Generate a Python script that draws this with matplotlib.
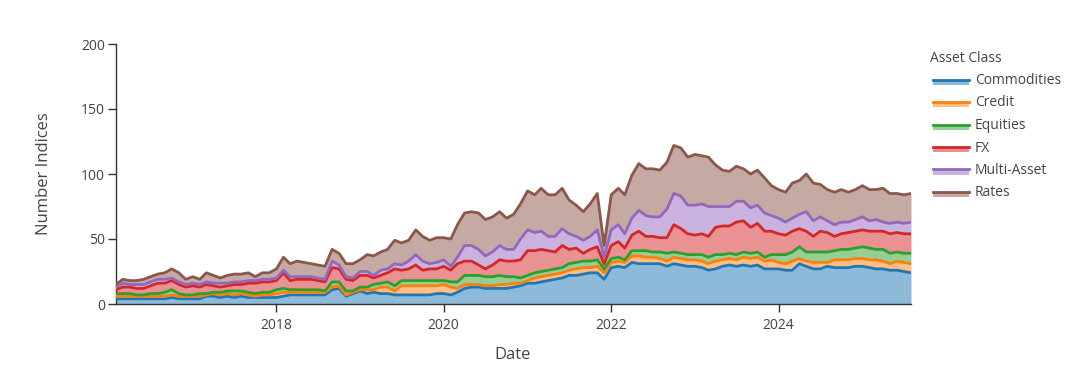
import numpy as np
import pandas as pd
import matplotlib
matplotlib.use("Agg")
import matplotlib.pyplot as plt
from matplotlib.patches import Rectangle
from matplotlib.lines import Line2D

# monthly counts, Feb 2016 .. Aug 2025
dates = pd.date_range("2016-02-01", periods=115, freq="MS")

commodities = [4, 4, 4, 4, 4, 4, 4, 4, 5, 4, 4, 4, 4, 6, 6, 5, 6, 5, 6, 5,
               5, 5, 5, 5, 6, 7, 7, 7, 7, 7, 7, 11, 12, 6, 8, 10, 8, 9, 8, 8,
               7, 7, 7, 7, 7, 7, 8, 8, 7, 9, 12, 13, 13, 12, 12, 12, 12, 13, 14, 16,
               16, 17, 18, 19, 20, 22, 22, 23, 24, 24, 19, 28, 29, 28, 32, 31, 31, 31, 31, 29,
               31, 30, 29, 29, 28, 26, 27, 29, 30, 29, 30, 29, 30, 27, 27, 27, 26, 26, 31, 29,
               27, 27, 29, 28, 28, 28, 29, 29, 28, 27, 27, 26, 26, 25, 24]
credit = [2, 2, 2, 2, 2, 2, 2, 2, 2, 2, 2, 2, 2, 1, 2, 2, 2, 2, 2, 2,
          1, 2, 2, 3, 3, 2, 2, 2, 2, 2, 2, 2, 2, 1, 1, 1, 3, 2, 5, 5,
          3, 7, 7, 7, 7, 7, 6, 7, 6, 3, 3, 2, 2, 2, 2, 3, 3, 3, 2, 2,
          4, 4, 4, 4, 4, 4, 5, 5, 4, 5, 5, 4, 4, 4, 5, 6, 5, 5, 4, 4,
          5, 5, 5, 5, 5, 5, 6, 5, 5, 5, 6, 6, 6, 6, 7, 5, 5, 7, 4, 4,
          5, 5, 3, 6, 6, 6, 6, 6, 6, 7, 6, 5, 7, 7, 7]
equities = [2, 2, 2, 1, 1, 2, 2, 3, 4, 2, 1, 1, 2, 1, 1, 2, 2, 3, 2, 2,
            2, 2, 2, 3, 3, 2, 2, 2, 2, 2, 1, 4, 3, 3, 1, 2, 2, 4, 3, 4,
            4, 4, 4, 4, 4, 4, 4, 3, 4, 5, 7, 7, 7, 7, 7, 7, 6, 5, 4, 4,
            4, 4, 4, 4, 4, 5, 5, 5, 5, 5, 3, 3, 3, 2, 4, 4, 5, 4, 5, 6,
            4, 4, 4, 4, 5, 5, 5, 4, 4, 4, 4, 4, 4, 3, 4, 6, 7, 7, 9, 7,
            8, 8, 8, 7, 8, 8, 8, 9, 9, 8, 9, 8, 7, 7, 8]
fx = [3, 5, 5, 5, 5, 6, 8, 7, 7, 7, 6, 7, 5, 7, 5, 4, 4, 5, 5, 7,
      8, 8, 8, 7, 12, 7, 8, 8, 8, 7, 7, 11, 10, 9, 8, 9, 9, 5, 6, 7,
      13, 8, 9, 12, 8, 9, 9, 11, 9, 14, 11, 11, 8, 6, 9, 12, 12, 12, 14, 19,
      17, 17, 15, 13, 17, 11, 11, 6, 9, 10, 4, 10, 12, 9, 12, 15, 11, 12, 11, 12,
      21, 19, 16, 15, 16, 16, 21, 22, 21, 25, 24, 20, 22, 20, 18, 16, 15, 16, 14, 16,
      12, 16, 15, 11, 12, 13, 13, 13, 13, 14, 14, 15, 15, 15, 15]
multi_asset = [2, 3, 2, 3, 3, 3, 3, 3, 2, 2, 2, 2, 2, 2, 2, 3, 2, 2, 2, 2,
               2, 2, 2, 2, 2, 3, 2, 2, 2, 2, 2, 5, 3, 2, 2, 3, 3, 2, 4, 3,
               4, 4, 6, 8, 7, 4, 5, 5, 3, 5, 12, 12, 12, 10, 10, 11, 9, 9, 16, 16,
               14, 14, 11, 12, 13, 12, 9, 10, 10, 13, 5, 12, 13, 11, 13, 16, 16, 15, 16, 22,
               24, 25, 22, 23, 23, 23, 16, 15, 15, 16, 15, 15, 14, 14, 12, 12, 10, 10, 11, 15,
               12, 11, 9, 9, 9, 8, 9, 10, 8, 9, 7, 8, 8, 8, 9]
rates = [2, 3, 3, 3, 4, 4, 4, 5, 7, 7, 4, 5, 4, 7, 6, 4, 6, 6, 6, 6,
         3, 5, 5, 7, 10, 10, 12, 11, 10, 10, 10, 9, 9, 10, 11, 9, 13, 15, 14, 15,
         18, 17, 16, 19, 19, 18, 19, 17, 21, 25, 25, 26, 28, 28, 27, 26, 24, 27, 27, 30,
         29, 33, 32, 32, 31, 26, 24, 22, 25, 28, 9, 27, 28, 30, 33, 36, 36, 37, 36, 36,
         37, 37, 37, 39, 37, 38, 32, 28, 27, 27, 25, 26, 27, 27, 23, 22, 23, 27, 26, 29,
         29, 25, 24, 25, 25, 23, 23, 24, 24, 23, 26, 23, 22, 22, 22]

names = ["Commodities", "Credit", "Equities", "FX", "Multi-Asset", "Rates"]
series = [commodities, credit, equities, fx, multi_asset, rates]
colors = ["#1f77b4", "#ff7f0e", "#2ca02c", "#d62728", "#9467bd", "#8c564b"]

plt.rcParams["font.family"] = ["Open Sans", "DejaVu Sans"]
TXT = "#444444"
AX = "#333333"

W, H = 1081, 382
fig = plt.figure(figsize=(W / 100, H / 100), dpi=100)
ax = fig.add_axes([116 / W, 78 / H, 795 / W, 260 / H])

tops = np.cumsum(np.array(series, dtype=float), axis=0)
bottom = np.zeros(len(dates))
for top, c in zip(tops, colors):
    ax.fill_between(dates, bottom, top, color=c, alpha=0.5, linewidth=0, zorder=2)
    bottom = top
for top, c in zip(tops, colors):
    ax.plot(dates, top, color=c, linewidth=2, zorder=3, solid_joinstyle="round")

ax.set_xlim(dates[0], dates[-1])
ax.set_ylim(0, 200)
ax.set_yticks([0, 50, 100, 150, 200])
ax.set_xticks(pd.to_datetime(["2018-01-01", "2020-01-01", "2022-01-01", "2024-01-01"]))
ax.set_xticklabels(["2018", "2020", "2022", "2024"])

for s in ["top", "right"]:
    ax.spines[s].set_visible(False)
for s in ["left", "bottom"]:
    ax.spines[s].set_color(AX)
    ax.spines[s].set_linewidth(1)
ax.tick_params(direction="out", length=6, width=1, color=AX, labelcolor=TXT,
               labelsize=10, pad=2)
ax.tick_params(axis="x", pad=4)

fig.text(44 / W, 1 - 174 / H, "Number Indices", rotation=90, ha="center", va="center",
         fontsize=12, color=TXT)
fig.text(513 / W, 1 - 355 / H, "Date", ha="center", va="center", fontsize=12, color=TXT)

# legend
fig.text(930 / W, 1 - 58 / H, "Asset Class", ha="left", va="center", fontsize=10, color=TXT)
for i, (n, c) in enumerate(zip(names, colors)):
    yc = 80.5 + i * 22.5
    fig.add_artist(Rectangle((933 / W, 1 - (yc + 4) / H), 36 / W, 5 / H,
                             transform=fig.transFigure, facecolor=c, alpha=0.5,
                             linewidth=0))
    fig.add_artist(Line2D([933 / W, 969 / W], [1 - (yc - 1) / H, 1 - (yc - 1) / H],
                          transform=fig.transFigure, color=c, linewidth=2))
    fig.text(975 / W, 1 - yc / H, n, ha="left", va="center", fontsize=10, color=TXT)

fig.savefig("out.png", dpi=100)
